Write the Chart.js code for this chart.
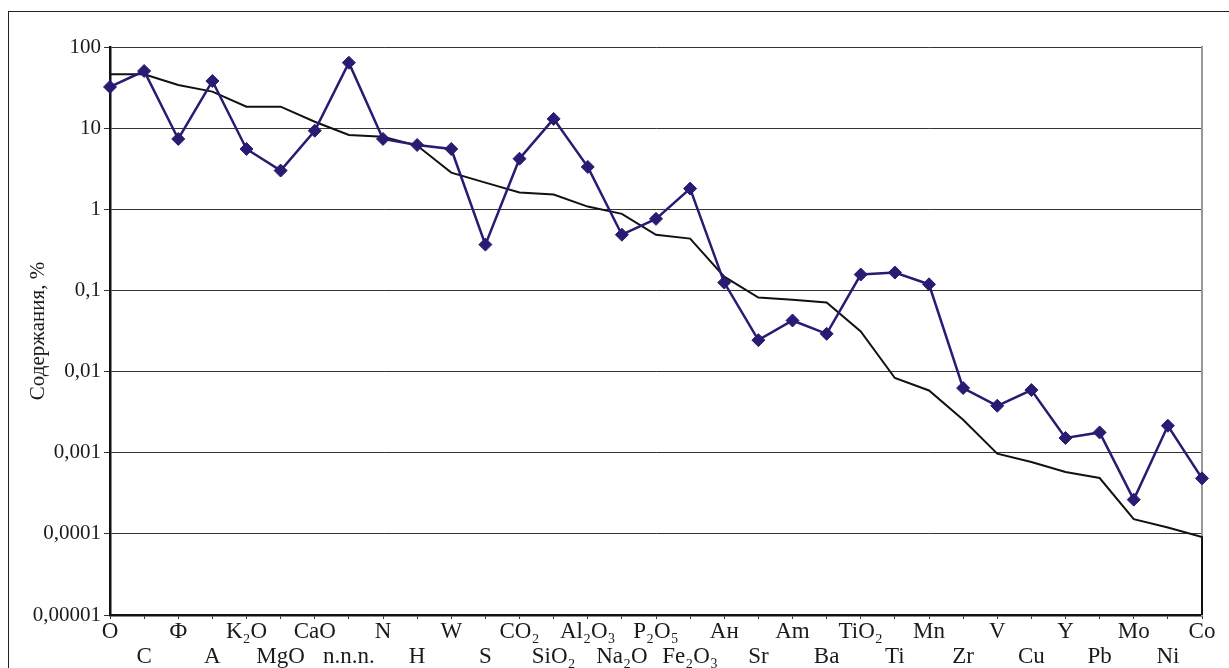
<!DOCTYPE html>
<html lang="ru">

<head>
    <meta charset="UTF-8">
    <title>Содержания</title>
    <script src="https://cdn.jsdelivr.net/npm/chart.js"></script>
    <style>
        body {
            margin: 0;
            background: #fff;
            overflow: hidden;
        }

        .frame {
            position: absolute;
            left: 8px;
            top: 11px;
            width: 1300px;
            height: 700px;
            border: 1.5px solid #222;
        }

        #chart {
            position: absolute;
            left: 0;
            top: 0;
        }
    </style>
</head>

<body>
    <div class="frame"></div>
    <canvas id="chart" width="1229" height="668"></canvas>

    <script>
        const categories = ['O', 'C', 'Ф', 'A', 'K₂O', 'MgO', 'CaO', 'n.n.n.', 'N', 'H', 'W', 'S',
            'CO₂', 'SiO₂', 'Al₂O₃', 'Na₂O', 'P₂O₅', 'Fe₂O₃', 'Ан', 'Sr', 'Am', 'Ba', 'TiO₂', 'Ti',
            'Mn', 'Zr', 'V', 'Cu', 'Y', 'Pb', 'Mo', 'Ni', 'Co'];

        // diamonds
        const sampleValues = [32.2, 50.6, 7.36, 38.1, 5.54, 3.0, 9.3, 64, 7.36, 6.2, 5.54, 0.367,
            4.2, 13, 3.33, 0.486, 0.762, 1.8, 0.125, 0.0244, 0.0426, 0.0292, 0.157, 0.166,
            0.119, 0.00626, 0.00379, 0.00592, 0.00152, 0.00178, 0.000264, 0.00215, 0.000483];

        // black line
        const referenceValues = [46, 46, 34, 28.2, 18.4, 18.4, 12.0, 8.24, 7.86, 6.1, 2.83, 2.13,
            1.61, 1.52, 1.08, 0.879, 0.484, 0.435, 0.148, 0.0818, 0.0766, 0.071, 0.0312, 0.00834,
            0.00585, 0.00255, 0.000972, 0.000767, 0.000578, 0.000488, 0.000152, 0.00012, 0.0000916];
        const referenceEnd = 0.00001;

        const yTickValues = [0.00001, 0.0001, 0.001, 0.01, 0.1, 1, 10, 100];
        const yTickLabels = ['0,00001', '0,0001', '0,001', '0,01', '0,1', '1', '10', '100'];

        const refData = categories.map((c, i) => ({ x: c, y: referenceValues[i] }));
        refData.push({ x: categories[categories.length - 1], y: referenceEnd });

        const serif = 'Liberation Serif, Times New Roman, serif';

        new Chart(document.getElementById('chart'), {
            type: 'line',
            data: {
                labels: categories,
                datasets: [{
                    data: sampleValues,
                    borderColor: '#2a1a72',
                    backgroundColor: '#2a1a72',
                    borderWidth: 2.5,
                    pointStyle: 'rectRot',
                    pointRadius: 6.5,
                    pointBorderWidth: 1,
                    tension: 0,
                    clip: false
                }, {
                    data: refData,
                    borderColor: '#111',
                    borderWidth: 2,
                    pointRadius: 0,
                    tension: 0,
                    clip: false
                }]
            },
            options: {
                responsive: false,
                animation: false,
                layout: { padding: { top: 47, right: 27, left: 0, bottom: 0 } },
                plugins: {
                    legend: { display: false },
                    tooltip: { enabled: false }
                },
                scales: {
                    x: {
                        offset: false,
                        grid: { drawOnChartArea: false, drawTicks: true, tickLength: 4, color: '#333' },
                        border: { color: '#111', width: 2.5 },
                        ticks: {
                            autoSkip: false,
                            maxRotation: 0,
                            minRotation: 0,
                            padding: 0,
                            color: '#1a1a1a',
                            font: { family: serif, size: 23, lineHeight: 1.1 },
                            callback: (v, i) => i % 2 ? ['', categories[i]] : categories[i]
                        },
                        afterFit: (scale) => { scale.height = 53; }
                    },
                    y: {
                        type: 'logarithmic',
                        min: 0.00001,
                        max: 100,
                        grid: { color: '#333', lineWidth: 1, tickLength: 6 },
                        border: { color: '#111', width: 2.5 },
                        ticks: {
                            padding: 3,
                            color: '#1a1a1a',
                            font: { family: serif, size: 21 },
                            callback: (v) => yTickLabels[yTickValues.indexOf(v)]
                        },
                        afterBuildTicks: (scale) => {
                            scale.ticks = yTickValues.map(v => ({ value: v }));
                        },
                        afterFit: (scale) => { scale.width = 110; },
                        title: {
                            display: true,
                            text: 'Содержания, %',
                            color: '#1a1a1a',
                            font: { family: serif, size: 21 },
                            padding: { top: 26, bottom: 0 }
                        }
                    },
                    yRight: {
                        type: 'logarithmic',
                        position: 'right',
                        min: 0.00001,
                        max: 100,
                        grid: { drawOnChartArea: false, drawTicks: false },
                        border: { color: '#999', width: 2 },
                        ticks: { display: false },
                        afterFit: (scale) => { scale.width = 0; }
                    }
                }
            }
        });
    </script>
</body>

</html>
